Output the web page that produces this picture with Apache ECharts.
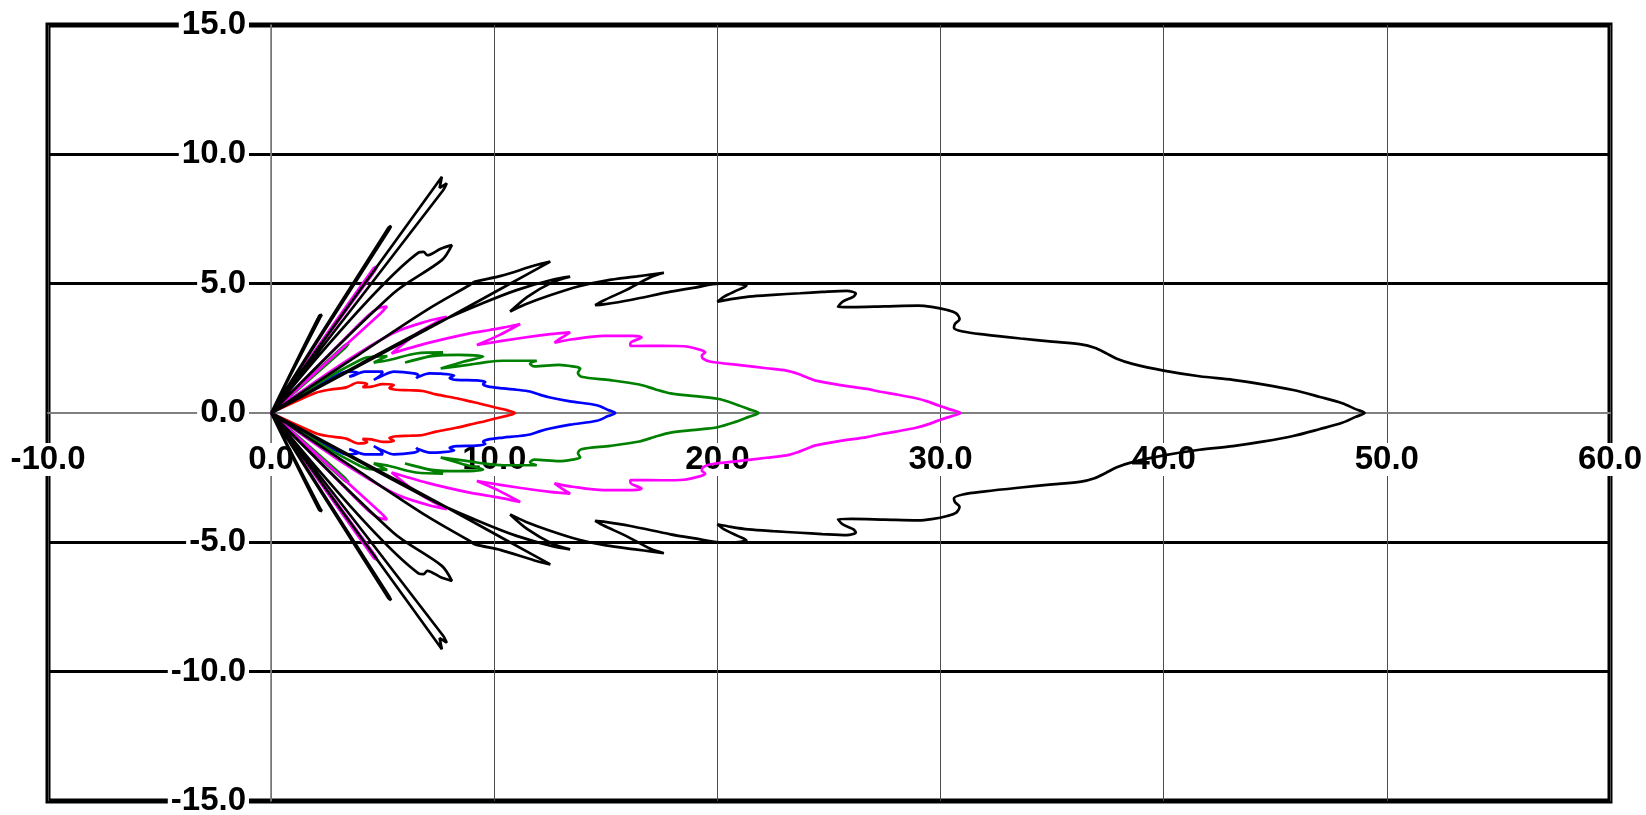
<!DOCTYPE html>
<html>
<head>
<meta charset="utf-8">
<script src="https://cdn.jsdelivr.net/npm/echarts@6/dist/echarts.min.js"></script>
<style>
html,body{margin:0;padding:0;background:#fff;}
#chart{width:1646px;height:815px;}
</style>
</head>
<body>
<div id="chart"></div>
<script>
// Upper halves of the polar patterns (x, y), from the main-lobe tip back to the origin.
const redUpper = [[10.93,0],[10.6,0.1],[10.0,0.22],[9.37,0.36],[8.9,0.45],[8.3,0.57],[7.4,0.72],[6.8,0.85],[6.2,0.88],[5.6,0.9],[5.3,0.97],[5.5,1.08],[5.0,1.12],[4.5,1.02],[4.1,1.0],[4.3,1.12],[3.9,1.18],[3.4,1.0],[3.1,0.95],[2.6,0.9],[2.0,0.78],[0,0]];
const blueUpper = [[15.42,0],[15.1,0.12],[14.6,0.3],[13.4,0.45],[12.5,0.6],[12.06,0.7],[11.6,0.83],[11.0,0.9],[10.4,0.95],[9.7,1.03],[9.5,1.12],[9.6,1.2],[9.2,1.26],[8.3,1.28],[8.0,1.35],[8.2,1.45],[7.6,1.52],[7.1,1.53],[6.6,1.4],[6.5,1.34],[6.6,1.45],[6.4,1.53],[5.5,1.6],[5.0,1.45],[4.6,1.28],[4.9,1.45],[5.0,1.6],[4.2,1.6],[3.6,1.42],[3.5,1.4],[3.9,1.55],[3.4,1.6],[2.8,1.4],[2.6,1.3],[0,0]];
const greenUpper = [[21.84,0],[21.4,0.15],[20.72,0.37],[20.0,0.55],[19.0,0.65],[17.9,0.76],[17.2,0.92],[16.5,1.1],[15.2,1.27],[13.9,1.4],[13.75,1.55],[13.85,1.72],[13.5,1.8],[12.9,1.86],[11.8,1.8],[11.6,1.9],[11.9,2.02],[10.4,2.02],[9.5,1.95],[8.9,1.87],[7.6,1.72],[8.6,1.98],[9.5,2.18],[8.4,2.25],[7.2,2.2],[6.0,1.95],[6.9,2.15],[7.7,2.34],[6.5,2.3],[5.3,2.05],[4.6,1.95],[5.2,2.2],[4.3,2.15],[3.99,2.05],[2.5,1.35],[0,0],[3.3,2.5],[3.47,2.69],[3.3,2.62],[0,0]];
const magentaUpper = [[30.9,0],[30.5,0.12],[30.0,0.26],[29.4,0.45],[28.9,0.57],[28.0,0.72],[27.3,0.82],[26.7,0.93],[25.5,1.08],[24.4,1.25],[24.0,1.38],[23.6,1.52],[23.1,1.64],[22.2,1.73],[21.0,1.85],[19.7,1.98],[19.35,2.1],[19.3,2.22],[19.45,2.35],[19.2,2.45],[18.5,2.58],[17.5,2.6],[16.1,2.59],[16.1,2.7],[16.6,2.92],[16.2,2.98],[14.9,2.98],[13.5,2.85],[12.7,2.72],[13.0,2.9],[13.4,3.12],[12.5,3.05],[11.2,2.9],[9.22,2.63],[10.2,3.0],[11.16,3.44],[10.4,3.3],[9.8,3.21],[8.9,3.08],[7.0,2.7],[5.4,2.3],[6.5,3.05],[7.87,3.72],[7.0,3.55],[5.5,3.1],[3.0,1.8],[0,0],[4.9,3.85],[5.19,4.11],[4.8,4.05],[4.29,3.72],[3.39,2.95],[0,0],[4.65,5.5],[4.74,5.66],[4.6,5.6],[0,0]];
const blackUpper = [[49.0,0],[48.6,0.15],[48.0,0.38],[47.0,0.62],[45.8,0.89],[44.5,1.1],[43.1,1.28],[41.6,1.42],[40.0,1.64],[38.6,1.9],[37.9,2.1],[37.4,2.32],[36.9,2.52],[36.3,2.65],[35.0,2.76],[33.6,2.88],[32.0,3.03],[31.0,3.15],[30.6,3.3],[30.65,3.45],[30.85,3.62],[30.7,3.85],[30.3,3.98],[29.6,4.1],[29.0,4.15],[27.5,4.12],[26.0,4.09],[25.4,4.1],[25.6,4.3],[26.1,4.5],[26.2,4.62],[25.8,4.72],[24.7,4.68],[23.7,4.63],[22.5,4.57],[21.4,4.5],[20.6,4.4],[20.0,4.3],[20.3,4.5],[20.9,4.75],[21.3,4.92],[20.8,5.0],[20.1,5.0],[19.0,4.85],[17.9,4.69],[16.1,4.37],[14.9,4.2],[14.52,4.17],[14.9,4.35],[15.9,4.75],[17.0,5.25],[17.6,5.42],[17.0,5.35],[16.4,5.28],[15.0,5.12],[13.8,4.9],[12.5,4.55],[11.4,4.2],[10.71,3.92],[11.5,4.5],[12.6,5.05],[13.4,5.27],[12.6,5.15],[11.0,4.75],[9.5,4.25],[7.5,3.5],[4.0,1.9],[0,0],[4.0,1.85],[8.02,3.72],[10.5,4.9],[12.51,5.85],[11.8,5.7],[10.3,5.3],[9.14,5.08],[8.9,4.95],[7.0,4.0],[4.0,2.3],[0,0],[5.48,4.63],[7.65,5.91],[8.1,6.49],[7.6,6.35],[7.0,6.1],[6.83,6.23],[6.6,6.2],[0,0],[7.5,8.95],[7.65,9.13],[7.55,8.7],[7.87,8.88],[7.7,8.6],[0,0],[5.3,7.1],[5.37,7.23],[5.25,7.15],[0,0],[2.2,3.7],[2.27,3.79],[2.15,3.75],[0,0]];

const xTicks = [-10,0,10,20,30,40,50,60];
const yTicks = [-15,-10,-5,0,5,10,15];

function fullCurve(upper){
  const lower = upper.slice().reverse().map(p => [p[0], -p[1]]);
  return lower.concat(upper.slice(1));
}

const curves = [
  {name:'red', color:'#ff0000', data: fullCurve(redUpper)},
  {name:'blue', color:'#0000ff', data: fullCurve(blueUpper)},
  {name:'green', color:'#008000', data: fullCurve(greenUpper)},
  {name:'magenta', color:'#ff00ff', data: fullCurve(magentaUpper)},
  {name:'black', color:'#000000', data: fullCurve(blackUpper)}
];

const labelFont = {fontFamily:'Liberation Sans, Arial, sans-serif', fontWeight:'bold', fontSize:33, color:'#000', backgroundColor:'#fff', padding:[0,3]};

const chart = echarts.init(document.getElementById('chart'));
chart.setOption({
  animation:false,
  backgroundColor:'#fff',
  grid:{left:48, right:36, top:25, bottom:14, containLabel:false, outerBoundsMode:'none', show:true, borderColor:'#000', borderWidth:5, backgroundColor:'transparent'},
  xAxis:{type:'value', min:-10, max:60, interval:10, position:'bottom', offset:-388,
    axisLine:{show:true, onZero:false, lineStyle:{color:'#808080', width:2}},
    axisTick:{show:false},
    axisLabel:Object.assign({margin:30, formatter:v=>v.toFixed(1)}, labelFont),
    splitLine:{show:true, lineStyle:{color:'#4d4d4d', width:1}}},
  yAxis:{type:'value', min:-15, max:15, interval:5, position:'left', offset:-223,
    axisLine:{show:true, onZero:false, lineStyle:{color:'#808080', width:1.6}},
    axisTick:{show:false},
    axisLabel:Object.assign({margin:22, formatter:v=>v.toFixed(1)}, labelFont),
    splitLine:{show:true, lineStyle:{color:['transparent','#000','#000','transparent','#000','#000','transparent'], width:3}}},
  series: curves.map((c,i)=>({type:'line', name:c.name, data:c.data, showSymbol:false, symbol:'none', smooth:0.3, z:3+i,
    lineStyle:{color:c.color, width:2.7}, silent:true}))
});
</script>
</body>
</html>
